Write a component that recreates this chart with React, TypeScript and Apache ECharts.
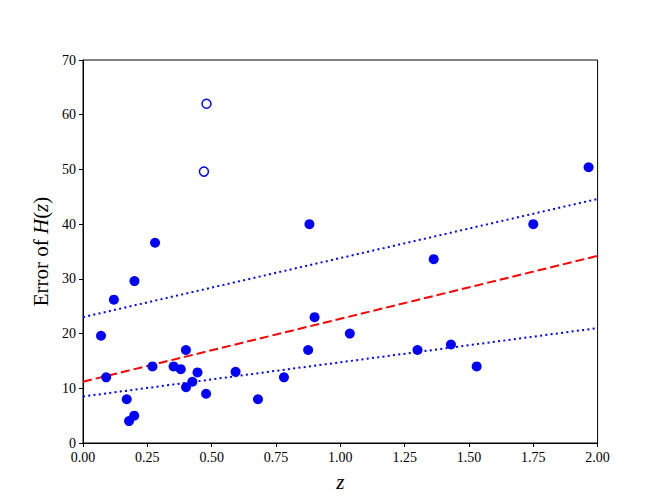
import React, { useEffect, useRef } from "react";
import * as echarts from "echarts";

// Observed H(z) error data (filled markers)
const zFilled = [0.07, 0.09, 0.12, 0.17, 0.179, 0.199, 0.2, 0.27, 0.28, 0.352, 0.38, 0.4, 0.4004, 0.425, 0.445, 0.4783, 0.593, 0.68, 0.781, 0.875, 0.88, 0.9, 1.037, 1.3, 1.363, 1.43, 1.53, 1.75, 1.965];
const errFilled = [19.6, 12, 26.2, 8, 4, 5, 29.6, 14, 36.6, 14, 13.5, 17, 10.2, 11.2, 12.9, 9, 13, 8, 12, 17, 40, 23, 20, 17, 33.6, 18, 14, 40, 50.4];
// Outliers (hollow markers)
const zHollow = [0.47, 0.48];
const errHollow = [49.6, 62];
// Fit lines
const lineZ = [0, 1, 2];
const midLine = [11.2, 22.7, 34.2];
const upperLine = [23.0, 33.8, 44.6];
const lowerLine = [8.5, 14.75, 21.0];
const xTicks = ["0.00", "0.25", "0.50", "0.75", "1.00", "1.25", "1.50", "1.75", "2.00"];

const FONT = "'Liberation Serif', 'Times New Roman', serif";

export default function App() {
  const ref = useRef<HTMLDivElement>(null);
  useEffect(() => {
    if (!ref.current) return;
    const chart = echarts.init(ref.current, undefined, { renderer: "svg" });
    const pairs = (xs: number[], ys: number[]) => xs.map((x, i) => [x, ys[i]]);
    const italic = { fontFamily: FONT, fontSize: 21, fontStyle: "italic", color: "#000" };
    chart.setOption({
      animation: false,
      backgroundColor: "#ffffff",
      textStyle: { fontFamily: FONT },
      grid: {
        left: 83,
        right: 66.4,
        top: 60,
        bottom: 55,
        show: true,
        borderColor: "#000",
        borderWidth: 1,
        backgroundColor: "transparent",
      },
      xAxis: {
        type: "value",
        min: 0,
        max: 2,
        interval: 0.25,
        name: "{i|z}",
        nameLocation: "middle",
        nameGap: 28,
        nameTextStyle: { fontFamily: FONT, fontSize: 21, color: "#000", rich: { i: italic } },
        axisLine: { show: true, onZero: false, lineStyle: { color: "#000", width: 1 } },
        axisTick: { show: true, inside: false, length: 4, lineStyle: { color: "#000" } },
        axisLabel: {
          fontFamily: FONT,
          fontSize: 14,
          color: "#000",
          margin: 7,
          formatter: (v: number) => xTicks[Math.round(v / 0.25)] ?? v.toFixed(2),
        },
        splitLine: { show: false },
      },
      yAxis: {
        type: "value",
        min: 0,
        max: 70,
        interval: 10,
        name: "Error of {i|H}({i|z})",
        nameLocation: "middle",
        nameGap: 32,
        nameTextStyle: { fontFamily: FONT, fontSize: 21, color: "#000", rich: { i: italic } },
        axisLine: { show: true, onZero: false, lineStyle: { color: "#000", width: 1 } },
        axisTick: { show: true, inside: false, length: 4, lineStyle: { color: "#000" } },
        axisLabel: { fontFamily: FONT, fontSize: 14, color: "#000", margin: 7 },
        splitLine: { show: false },
      },
      series: [
        {
          type: "line",
          data: pairs(lineZ, midLine),
          showSymbol: false,
          symbol: "none",
          lineStyle: { color: "#ff0000", width: 2, type: [9, 4] },
          z: 2,
        },
        {
          type: "line",
          data: pairs(lineZ, upperLine),
          showSymbol: false,
          symbol: "none",
          lineStyle: { color: "#0000ff", width: 2, type: [2, 3.3] },
          z: 2,
        },
        {
          type: "line",
          data: pairs(lineZ, lowerLine),
          showSymbol: false,
          symbol: "none",
          lineStyle: { color: "#0000ff", width: 2, type: [2, 3.3] },
          z: 2,
        },
        {
          type: "scatter",
          data: pairs(zFilled, errFilled),
          symbol: "circle",
          symbolSize: 10,
          itemStyle: { color: "#0000ff", borderWidth: 0, opacity: 1 },
          z: 3,
        },
        {
          type: "scatter",
          data: pairs(zHollow, errHollow),
          symbol: "circle",
          symbolSize: 9,
          itemStyle: { color: "#ffffff", borderColor: "#0000ff", borderWidth: 1.5, opacity: 1 },
          z: 3,
        },
      ],
    });
    return () => chart.dispose();
  }, []);
  return (
    <div
      ref={ref}
      style={{ position: "fixed", left: 0, top: 0, width: 664, height: 498, background: "#fff" }}
    />
  );
}
